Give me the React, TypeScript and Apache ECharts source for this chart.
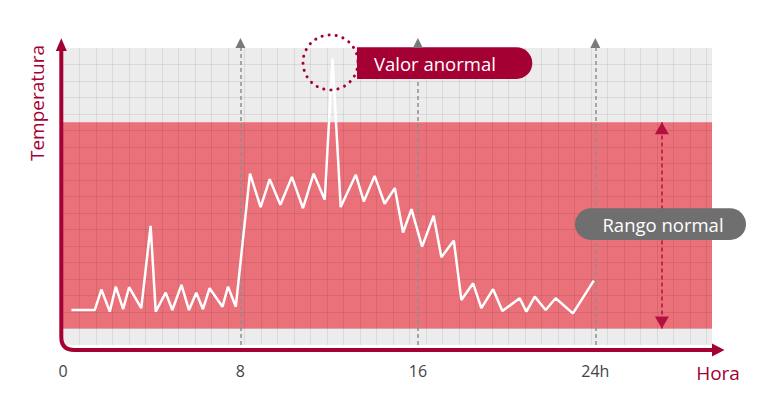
import React, { useEffect, useRef } from 'react';
import * as echarts from 'echarts';

// Line points: hour (x) and temperature in grid-cell units (y)
const hours = [0.38, 1.43, 1.73, 2.11, 2.38, 2.71, 2.98, 3.53, 3.95, 4.18, 4.63, 4.93, 5.34, 5.68, 6.01, 6.31, 6.61, 7.19, 7.44, 7.79, 8.43, 8.91, 9.32, 9.8, 10.32, 10.82, 11.3, 11.8, 12.15, 12.52, 13.2, 13.56, 14.05, 14.5, 14.96, 15.33, 15.71, 16.19, 16.71, 17.06, 17.62, 17.96, 18.49, 18.86, 19.39, 19.81, 20.59, 20.89, 21.27, 21.76, 22.21, 22.99, 23.93];
const temps = [2.12, 2.12, 3.36, 2.02, 3.54, 2.17, 3.5, 2.23, 7.22, 2.02, 3.17, 2.12, 3.64, 2.12, 3.17, 2.17, 3.44, 2.32, 3.54, 2.32, 10.38, 8.36, 10.05, 8.5, 10.19, 8.29, 10.38, 8.8, 17.37, 8.36, 10.32, 8.7, 10.25, 8.56, 9.51, 6.82, 8.23, 5.96, 7.83, 5.32, 6.33, 2.73, 3.74, 2.23, 3.38, 2.06, 2.83, 2.02, 2.93, 2.12, 2.83, 1.92, 3.9];

const hourTicks = [0, 8, 16, 24];
const tickLabels = ['0', '8', '16', '24h'];
const guideHours = [8, 16, 24];
const normalRange = [1, 13.5];
const rangeArrowHour = 27;
const hourMax = 29.26;
const gridCols = 39.33;
const gridRows = 18;

const RED = '#a50034';
const FONT = 'Open Sans';

export default function App() {
  const ref = useRef<HTMLDivElement>(null);
  useEffect(() => {
    if (!ref.current) return;
    echarts.graphic.registerShape(
      'axisL',
      echarts.graphic.extendPath('M61.3 50 L61.3 337 Q61.3 350 74.3 350 L713 350', {})
    );
    const chart = echarts.init(ref.current, undefined, { renderer: 'svg' });

    let peakIdx = 0;
    temps.forEach((t, i) => { if (t > temps[peakIdx]) peakIdx = i; });

    const option: any = {
      animation: false,
      textStyle: { fontFamily: FONT },
      grid: {
        left: 63, top: 48, right: 56, bottom: 57,
        show: true, backgroundColor: '#ececec', borderWidth: 0,
      },
      xAxis: [
        {
          type: 'value', min: 0, max: hourMax, interval: 8, z: 2,
          axisLine: { show: false }, axisTick: { show: false }, splitLine: { show: false },
          axisLabel: {
            show: true, margin: 18, fontSize: 16, color: '#444', fontFamily: FONT,
            showMaxLabel: false,
            formatter: (v: number) => {
              const i = hourTicks.indexOf(v);
              return i >= 0 ? tickLabels[i] : '';
            },
          },
        },
        {
          type: 'value', min: 0, max: gridCols, interval: 1, z: 2,
          axisLine: { show: false }, axisTick: { show: false }, axisLabel: { show: false },
          splitLine: { show: true, showMinLine: false, showMaxLine: false, lineStyle: { color: 'rgba(0,0,0,0.075)', width: 1 } },
        },
      ],
      yAxis: [
        {
          type: 'value', min: 0, max: gridRows, interval: 1, z: 2,
          axisLine: { show: false }, axisTick: { show: false }, axisLabel: { show: false },
          splitLine: { show: true, showMinLine: false, showMaxLine: false, lineStyle: { color: 'rgba(0,0,0,0.075)', width: 1 } },
        },
      ],
      series: [
        {
          type: 'line',
          xAxisIndex: 0, yAxisIndex: 0,
          z: 3,
          clip: false,
          data: hours.map((h, i) => [h, temps[i]]),
          showSymbol: false,
          symbol: 'none',
          lineStyle: { color: '#ffffff', width: 2.5 },
          silent: true,
          markArea: {
            silent: true,
            z: 1,
            itemStyle: { color: '#ea707a', opacity: 1 },
            data: [[{ yAxis: normalRange[0] }, { yAxis: normalRange[1] }]],
          },
          markLine: {
            silent: true,
            z: 2.5,
            symbol: 'none',
            label: { show: false },
            lineStyle: { color: '#8f8f8f', type: [4, 3], width: 1.5 },
            data: [
              ...guideHours.map((h) => [{ coord: [h, 0] }, { coord: [h, gridRows] }]),
              [
                {
                  coord: [rangeArrowHour, normalRange[0]],
                  symbol: 'triangle', symbolSize: [14, 12], symbolOffset: [0, 6],
                  lineStyle: { color: '#b3103f', type: [4, 3], width: 1.5 },
                },
                {
                  coord: [rangeArrowHour, normalRange[1]],
                  symbol: 'triangle', symbolSize: [14, 12], symbolOffset: [0, 6],
                },
              ],
            ],
          },
          markPoint: {
            silent: true,
            z: 6,
            symbol: 'circle',
            symbolSize: 55,
            symbolOffset: [-2, 4],
            label: { show: false },
            itemStyle: {
              color: 'rgba(0,0,0,0)', borderColor: RED, borderWidth: 3,
              borderType: [0.1, 7], borderCap: 'round',
            },
            data: [{ coord: [hours[peakIdx], temps[peakIdx]] }],
          },
        },
      ],
      graphic: [
        { type: 'axisL', x: 0, y: 0, z: 20, style: { fill: 'none', stroke: RED, lineWidth: 4 } },
        { type: 'polygon', z: 20, shape: { points: [[55.8, 51], [66.8, 51], [61.3, 38.3]] }, style: { fill: RED } },
        { type: 'polygon', z: 20, shape: { points: [[712, 343.5], [712, 356.5], [724.5, 350]] }, style: { fill: RED } },
        {
          type: 'text', z: 20, x: 37, y: 103, rotation: Math.PI / 2,
          style: { text: 'Temperatura', fill: RED, font: `19px "${FONT}"`, align: 'center', verticalAlign: 'middle' },
        },
        {
          type: 'text', z: 20, x: 718, y: 373,
          style: { text: 'Hora', fill: RED, font: `19px "${FONT}"`, align: 'center', verticalAlign: 'middle' },
        },
        {
          type: 'rect', z: 10,
          shape: { x: 357, y: 47.3, width: 175.3, height: 31.7, r: [0, 16, 16, 0] },
          style: { fill: RED },
        },
        {
          type: 'text', z: 11, x: 374, y: 63.5,
          style: { text: 'Valor anormal', fill: '#ffffff', font: `18.5px "${FONT}"`, align: 'left', verticalAlign: 'middle' },
        },
        {
          type: 'rect', z: 10,
          shape: { x: 575, y: 208.3, width: 171, height: 31.7, r: 16 },
          style: { fill: '#6f6f6f' },
        },
        {
          type: 'text', z: 11, x: 663, y: 224.5,
          style: { text: 'Rango normal', fill: '#ffffff', font: `18.5px "${FONT}"`, align: 'center', verticalAlign: 'middle' },
        },
      ],
    };
    chart.setOption(option);

    // Gray arrowheads on top of the guide lines, placed through the chart's own scales
    const heads = guideHours.map((h) => {
      const p = chart.convertToPixel({ xAxisIndex: 0, yAxisIndex: 0 }, [h, gridRows]) as number[];
      return {
        type: 'polygon', z: 12,
        shape: { points: [[p[0] - 5, p[1]], [p[0] + 5, p[1]], [p[0], p[1] - 10]] },
        style: { fill: '#7a7a7a' },
      };
    });
    chart.setOption({ graphic: [...option.graphic, ...heads] });

    return () => chart.dispose();
  }, []);
  return <div ref={ref} style={{ position: 'absolute', left: 0, top: 0, width: 768, height: 402 }} />;
}
